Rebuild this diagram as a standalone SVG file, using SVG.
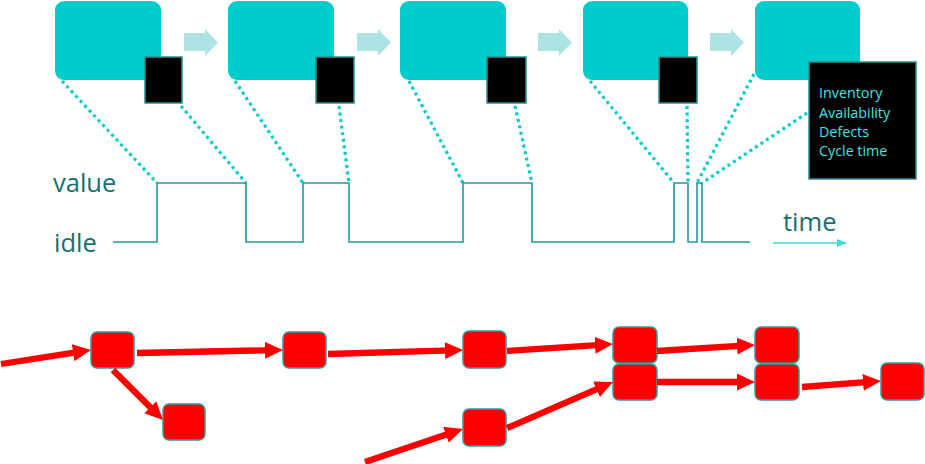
<svg xmlns="http://www.w3.org/2000/svg" width="925" height="464" viewBox="0 0 925 464">
<style>
.cbox{fill:#00cccc;}
.bbox{fill:#000;stroke:#2a9090;stroke-width:1.5;}
.step{fill:#aee3e3;}
.dot{stroke:#00cccc;stroke-width:3.2;stroke-dasharray:3 3.6;fill:none;}
.wave{fill:none;stroke:#1f9c9c;stroke-width:1.6;}
.lbl{font-family:"Open Sans","Noto Sans",sans-serif;font-size:25.5px;fill:#17706f;}
.kpi{font-family:"Open Sans","Noto Sans",sans-serif;font-size:14.3px;fill:#44e2e2;}
.rbox{fill:#ff0000;stroke:#2aa0a0;stroke-width:1.5;}
.flow{stroke:#ff0000;stroke-width:6.3;fill:none;marker-end:url(#ah);}
</style>
<defs>
<marker id="ah" viewBox="0 0 18 17" refX="6" refY="8.5" markerWidth="18" markerHeight="17" markerUnits="userSpaceOnUse" orient="auto">
<path d="M0,0 L18,8.5 L0,17 z" fill="#ff0000"/>
</marker>
<marker id="ta" viewBox="0 0 10 8" refX="9" refY="4" markerWidth="10" markerHeight="8" markerUnits="userSpaceOnUse" orient="auto">
<path d="M0,0 L10,4 L0,8 z" fill="#3fd8d8"/>
</marker>
<polygon id="step" points="0,4 21,4 21,0 34,13.5 21,27 21,22 0,22"/>
</defs>

<g id="stations">
<g id="s1"><rect class="cbox" x="55" y="1" width="106" height="79" rx="9"/><rect class="bbox" x="145" y="57" width="37" height="46"/></g>
<g id="s2"><rect class="cbox" x="228" y="1" width="106" height="79" rx="9"/><rect class="bbox" x="316" y="57" width="38" height="46"/></g>
<g id="s3"><rect class="cbox" x="400" y="1" width="106" height="79" rx="9"/><rect class="bbox" x="487" y="57" width="39" height="46"/></g>
<g id="s4"><rect class="cbox" x="583" y="1" width="105" height="79" rx="9"/><rect class="bbox" x="659" y="57" width="38" height="46"/></g>
<g id="s5"><rect class="cbox" x="755" y="1" width="105" height="79" rx="9"/><rect class="bbox" x="809" y="62" width="107" height="117"/>
<text class="kpi" x="819" y="98">Inventory</text>
<text class="kpi" x="819" y="118">Availability</text>
<text class="kpi" x="819" y="137">Defects</text>
<text class="kpi" x="819" y="156">Cycle time</text>
</g>
</g>

<g id="steps" class="step">
<use href="#step" x="184" y="29"/>
<use href="#step" x="357" y="29"/>
<use href="#step" x="538" y="29"/>
<use href="#step" x="710" y="29"/>
</g>

<g id="dotted">
<line class="dot" x1="62" y1="81" x2="157" y2="183"/>
<line class="dot" x1="181" y1="106" x2="246" y2="183"/>
<line class="dot" x1="235" y1="81" x2="303" y2="183"/>
<line class="dot" x1="339" y1="106" x2="349" y2="183"/>
<line class="dot" x1="409" y1="81" x2="463" y2="183"/>
<line class="dot" x1="515" y1="106" x2="532" y2="183"/>
<line class="dot" x1="590" y1="81" x2="674" y2="183"/>
<line class="dot" x1="687" y1="106" x2="688" y2="183"/>
<line class="dot" x1="754" y1="74" x2="697" y2="183"/>
<line class="dot" x1="807" y1="113" x2="702" y2="183"/>
</g>

<g id="timeline">
<path class="wave" d="M113,242 H157 V183 H246 V242 H303 V183 H349 V242 H463 V183 H532 V242 H674 V183 H688 V242 H697 V183 H702 V242 H750"/>
<text class="lbl" x="53" y="192">value</text>
<text class="lbl" x="54" y="252">idle</text>
<text class="lbl" x="783" y="231">time</text>
<line x1="773" y1="243" x2="846" y2="243" stroke="#3fd8d8" stroke-width="1.5" marker-end="url(#ta)"/>
</g>

<g id="flownodes">
<rect id="nA" class="rbox" x="91" y="332" width="43" height="36" rx="6"/>
<rect id="nB" class="rbox" x="283" y="332" width="43" height="36" rx="6"/>
<rect id="nC" class="rbox" x="163" y="404" width="42" height="36" rx="6"/>
<rect id="nD" class="rbox" x="463" y="331" width="43" height="37" rx="6"/>
<rect id="nE" class="rbox" x="463" y="409" width="43" height="37" rx="6"/>
<rect id="nF" class="rbox" x="613" y="327" width="44" height="36" rx="6"/>
<rect id="nG" class="rbox" x="613" y="364" width="44" height="36" rx="6"/>
<rect id="nH" class="rbox" x="755" y="327" width="44" height="36" rx="6"/>
<rect id="nI" class="rbox" x="755" y="364" width="44" height="36" rx="6"/>
<rect id="nJ" class="rbox" x="881" y="363" width="43" height="37" rx="6"/>
</g>

<g id="connectors">
<line class="flow" x1="1" y1="364" x2="79.1" y2="351.8"/>
<line class="flow" x1="137" y1="353" x2="271" y2="350.2"/>
<line class="flow" x1="328" y1="354" x2="451" y2="350.4"/>
<line class="flow" x1="113" y1="370" x2="154.5" y2="411.5"/>
<line class="flow" x1="365" y1="462" x2="451.6" y2="432.8"/>
<line class="flow" x1="507" y1="351" x2="601" y2="344.8"/>
<line class="flow" x1="507" y1="428" x2="602" y2="386.8"/>
<line class="flow" x1="657" y1="351" x2="743" y2="345.7"/>
<line class="flow" x1="657" y1="382" x2="743" y2="382"/>
<line class="flow" x1="802" y1="387" x2="869" y2="381.9"/>
</g>
</svg>
